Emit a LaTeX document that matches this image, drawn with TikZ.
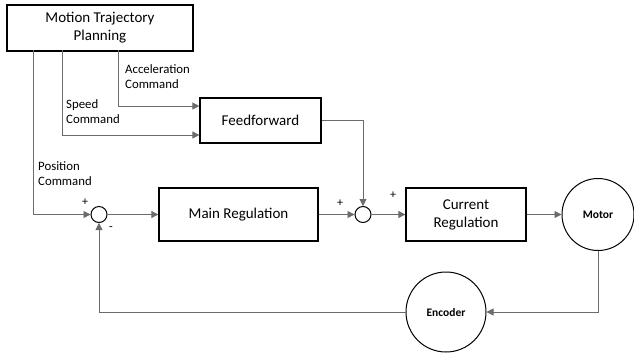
\documentclass[tikz,border=0pt]{standalone}
\usepackage{fontspec}
\setmainfont{Carlito}
\usetikzlibrary{arrows.meta,calc}
\begin{document}
\begin{tikzpicture}[x=1pt,y=-1pt,
  block/.style={draw=black,line width=1.3pt,minimum height=53pt,align=center,
    font=\fontsize{15}{18}\selectfont,inner sep=0pt},
  disc/.style={draw=black,line width=1pt,circle,inner sep=0pt,
    font=\fontsize{11.5}{13}\selectfont\bfseries},
  sumnode/.style={draw=black,line width=1pt,circle,minimum size=16pt,inner sep=0pt},
  wire/.style={draw=black!58,line width=0.8pt},
  flow/.style={wire,-{Triangle[length=7pt,width=7pt]},},
  lbl/.style={font=\fontsize{12.8}{15}\selectfont,align=left,inner sep=0pt,anchor=north west},
  sgn/.style={font=\fontsize{12}{12}\selectfont,inner sep=0pt}]
\useasboundingbox (0,0) rectangle (634,354);

% blocks
\node[block,minimum width=186pt,minimum height=46pt] (plan) at (100,28) {Motion Trajectory\\Planning};
\node[block,minimum width=121pt,minimum height=45pt] (ff) at (260.5,120.5) {Feedforward};
\node[block,minimum width=159pt] (main) at (238.5,214.5) {Main Regulation};
\node[block,minimum width=120pt] (cur) at (466,214.5) {Current\\Regulation};
\node[disc,minimum size=72pt] (motor) at (598,214.5) {Motor};
\node[disc,minimum size=80pt] (enc) at (446,312) {Encoder};

% summing junctions
\node[sumnode] (s1) at (99,214.5) {};
\node[sumnode] (s2) at (363,214.5) {};

% command paths from the trajectory planner
\coordinate (pa) at (118,50);
\coordinate (ps) at (62,50);
\coordinate (pp) at (33,50);
\draw[flow] (pa) |- ($(ff.west)+(0,-14.5)$);
\draw[flow] (ps) |- ($(ff.west)+(0,14.5)$);
\draw[flow] (pp) |- (s1.west);

% forward path
\draw[flow] (s1.east) -- (main.west);
\draw[flow] (main.east) -- (s2.west);
\draw[flow] (ff.east) -| (s2.north);
\draw[flow] (s2.east) -- (cur.west);
\draw[flow] (cur.east) -- (motor.west);

% feedback path
\draw[flow] (motor.south) |- (enc.east);
\draw[flow] (enc.west) -| (s1.south);

% labels
\node[lbl] (la) at (125,64) {Acceleration\\Command};
\node[lbl] (ls) at (66,99) {Speed\\Command};
\node[lbl] (lp) at (38,161) {Position\\Command};
\node[sgn] (p1) at (85,202) {+};
\node[sgn] (m1) at (111,229) {-};
\node[sgn] (p2) at (340,203) {+};
\node[sgn] (p3) at (393,195) {+};
\end{tikzpicture}
\end{document}
